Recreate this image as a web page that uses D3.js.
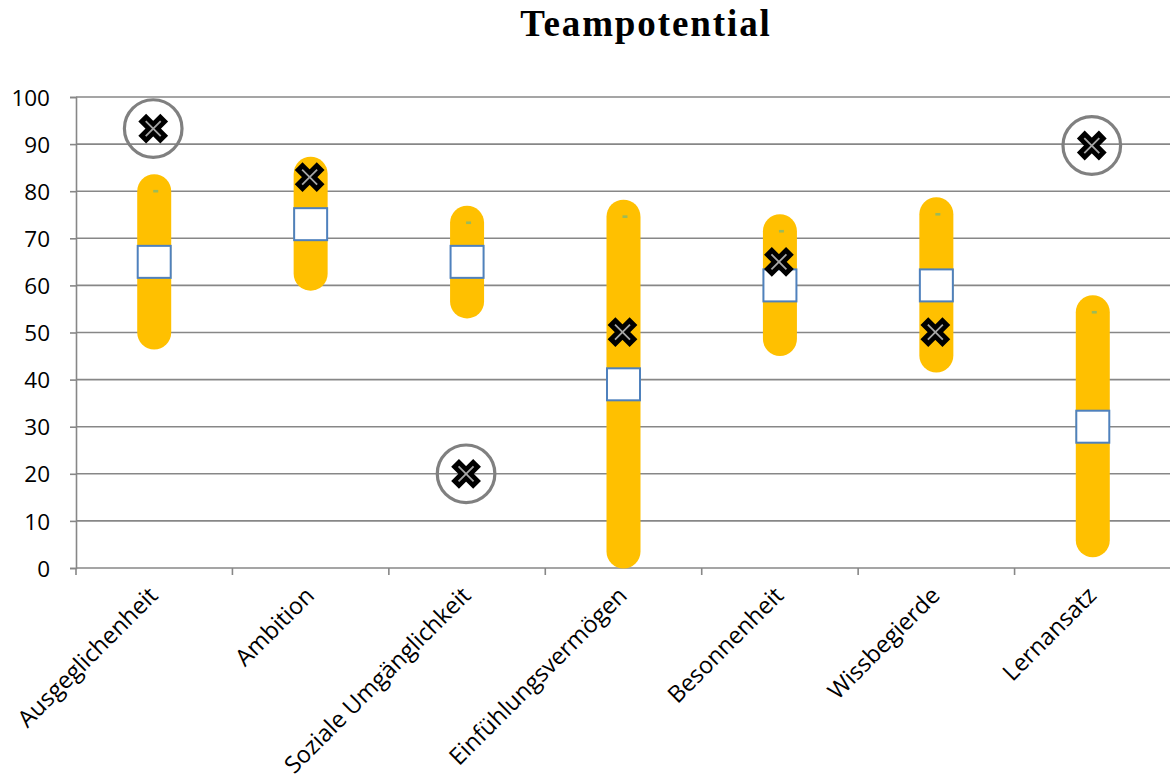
<!DOCTYPE html>
<html>
<head>
<meta charset="utf-8">
<script src="https://cdn.jsdelivr.net/npm/d3@7"></script>
<style>
  html, body { margin: 0; padding: 0; background: #fff; }
  svg { display: block; }
</style>
</head>
<body>
<svg id="chart" width="1170" height="778"></svg>
<script>
// Team potential per trait: team range (low–high), team mean and the individual's score
const categories = ["Ausgeglichenheit", "Ambition", "Soziale Umgänglichkeit", "Einfühlungsvermögen",
                    "Besonnenheit", "Wissbegierde", "Lernansatz"];
const lowValues    = [50, 62.5, 56.6, 3.5, 48.6, 45.1, 5.9];
const highValues   = [80, 83.7, 73.3, 74.6, 71.5, 75.1, 54.3];
const meanValues   = [65, 73, 65, 39, 60, 60, 30];
const personValues = [93.3, 83, 20, 50.1, 65, 50.1, 89.7];
const yTicks = [0, 10, 20, 30, 40, 50, 60, 70, 80, 90, 100];

const svg = d3.select("#chart");
const margin = { left: 76, top: 97, bottom: 568 };
const plotRight = 1171;

const x = d3.scaleBand().domain(categories).range([margin.left, plotRight]).padding(0);
const y = d3.scaleLinear().domain([0, 100]).range([margin.bottom, margin.top]);
const cx = c => x(c) + x.bandwidth() / 2;

const gridColor = "#878787";
const labelFont = "'Open Sans', sans-serif";

// Title
svg.append("text")
  .attr("x", 646).attr("y", 36)
  .attr("text-anchor", "middle")
  .style("font-family", "'Liberation Serif', serif")
  .style("font-weight", "bold")
  .style("font-size", "37px")
  .style("letter-spacing", "1.9px")
  .text("Teampotential");

// Horizontal gridlines
svg.append("g").selectAll("line")
  .data(yTicks.filter(d => d > 0))
  .join("line")
  .attr("x1", margin.left).attr("x2", plotRight)
  .attr("y1", d => y(d)).attr("y2", d => y(d))
  .attr("stroke", gridColor).attr("stroke-width", 1.6);

// Y axis
const yAxis = svg.append("g")
  .attr("transform", `translate(${margin.left},0)`)
  .call(d3.axisLeft(y).tickValues(yTicks).tickSize(6).tickPadding(20));
yAxis.select(".domain").attr("stroke", gridColor).attr("stroke-width", 1.6);
yAxis.selectAll(".tick line").attr("stroke", gridColor).attr("stroke-width", 1.6);
yAxis.selectAll(".tick text")
  .style("font-family", labelFont).style("font-size", "22.5px").attr("fill", "#000")
  .attr("dy", "0.36em");

// X axis line and category boundary ticks
svg.append("line")
  .attr("x1", margin.left).attr("x2", plotRight)
  .attr("y1", y(0)).attr("y2", y(0))
  .attr("stroke", gridColor).attr("stroke-width", 1.6);
svg.append("g").selectAll("line")
  .data(categories)
  .join("line")
  .attr("x1", d => x(d)).attr("x2", d => x(d))
  .attr("y1", y(0)).attr("y2", y(0) + 7)
  .attr("stroke", gridColor).attr("stroke-width", 1.6);

// Rotated category labels
svg.append("g").selectAll("text")
  .data(categories)
  .join("text")
  .attr("transform", d => `translate(${cx(d) + 5},${y(0) + 29}) rotate(-45)`)
  .attr("text-anchor", "end")
  .style("font-family", labelFont).style("font-size", "23.5px")
  .attr("fill", "#000")
  .text(d => d);

const rows = categories.map((c, i) => ({
  c, low: lowValues[i], high: highValues[i], mean: meanValues[i], person: personValues[i]
}));

// Team range as rounded bars
svg.append("g").selectAll("line")
  .data(rows)
  .join("line")
  .attr("x1", d => cx(d.c)).attr("x2", d => cx(d.c))
  .attr("y1", d => y(d.low)).attr("y2", d => y(d.high))
  .attr("stroke", "#ffc000").attr("stroke-width", 34).attr("stroke-linecap", "round");

// High marker
svg.append("g").selectAll("rect")
  .data(rows)
  .join("rect")
  .attr("x", d => cx(d.c) - 1).attr("y", d => y(d.high) - 1.3)
  .attr("width", 5).attr("height", 2.6)
  .attr("fill", "#9bbb59");

// Team mean squares
svg.append("g").selectAll("rect")
  .data(rows)
  .join("rect")
  .attr("x", d => cx(d.c) - 16.5).attr("y", d => y(d.mean) - 16)
  .attr("width", 33).attr("height", 32)
  .attr("fill", "#fff").attr("stroke", "#4f81bd").attr("stroke-width", 2);

// Individual scores outside the team range get a ring
svg.append("g").selectAll("circle")
  .data(rows.filter(d => d.person > d.high || d.person < d.low))
  .join("circle")
  .attr("cx", d => cx(d.c) - 1).attr("cy", d => y(d.person))
  .attr("r", 28.8)
  .attr("fill", "none").attr("stroke", "#808080").attr("stroke-width", 3.2);

// Individual score markers
const marks = svg.append("g").selectAll("g")
  .data(rows)
  .join("g")
  .attr("transform", d => `translate(${cx(d.c) - 1},${y(d.person)})`);
const armOuter = 11, armInner = 7.5;
marks.append("path")
  .attr("d", `M${-armOuter},${-armOuter}L${armOuter},${armOuter}M${armOuter},${-armOuter}L${-armOuter},${armOuter}`)
  .attr("stroke", "#000").attr("stroke-width", 11).attr("stroke-linecap", "butt").attr("fill", "none");
marks.append("path")
  .attr("d", `M${-armInner},${-armInner}L${armInner},${armInner}M${armInner},${-armInner}L${-armInner},${armInner}`)
  .attr("stroke", "#a6a6a6").attr("stroke-width", 1.8).attr("fill", "none");
</script>
</body>
</html>
